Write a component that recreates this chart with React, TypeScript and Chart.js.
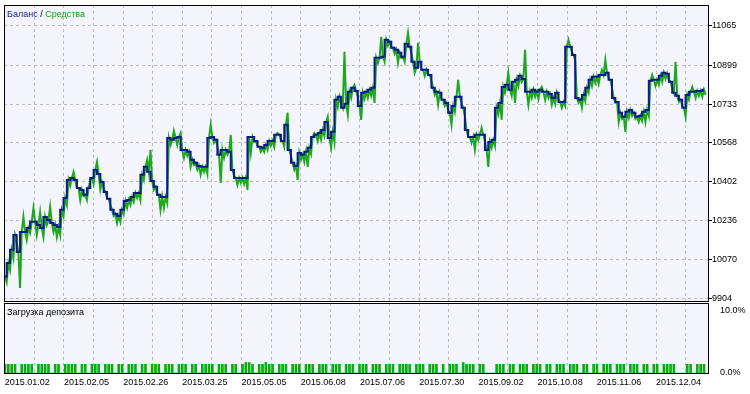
import React, { useEffect, useRef } from 'react';
import { Chart, registerables } from 'chart.js';

Chart.register(...registerables);

// ---- data ----
const balance: number[] = [
  10000, 10057, 10113, 10176, 10104, 10189, 10189, 10206, 10232, 10232,
  10219, 10206, 10253, 10240, 10227, 10219, 10210, 10283, 10334, 10410,
  10419, 10410, 10376, 10368, 10347, 10376, 10419, 10453, 10436, 10402,
  10359, 10330, 10283, 10266, 10257, 10283, 10321, 10325, 10338, 10355,
  10355, 10432, 10466, 10445, 10406, 10381, 10347, 10338, 10338, 10589,
  10581, 10589, 10593, 10538, 10538, 10530, 10496, 10483, 10470, 10466,
  10466, 10589, 10593, 10581, 10517, 10538, 10538, 10530, 10453, 10419,
  10419, 10419, 10419, 10593, 10593, 10576, 10551, 10547, 10559, 10576,
  10576, 10602, 10602, 10576, 10645, 10538, 10483, 10470, 10525, 10517,
  10530, 10547, 10593, 10602, 10610, 10623, 10657, 10589, 10615, 10751,
  10764, 10717, 10734, 10785, 10802, 10789, 10725, 10781, 10785, 10794,
  10802, 10930, 10930, 10934, 11006, 10998, 10972, 10964, 10951, 10934,
  10989, 10977, 10913, 10887, 10913, 10879, 10879, 10857, 10802, 10785,
  10781, 10751, 10738, 10696, 10725, 10764, 10764, 10717, 10623, 10593,
  10593, 10602, 10602, 10602, 10538, 10572, 10581, 10717, 10738, 10806,
  10815, 10794, 10828, 10836, 10853, 10840, 10785, 10785, 10794, 10785,
  10794, 10785, 10785, 10776, 10759, 10781, 10742, 10742, 10977, 10977,
  10942, 10759, 10751, 10772, 10802, 10836, 10849, 10849, 10857, 10857,
  10866, 10836, 10759, 10742, 10696, 10679, 10700, 10708, 10696, 10679,
  10683, 10700, 10708, 10832, 10836, 10836, 10853, 10866, 10862, 10828,
  10781, 10768, 10751, 10717, 10772, 10785, 10785, 10789, 10789, 10794,
];

// equity reading between consecutive balance points
const equity: number[] = [
  9976, 10027, 10078, 10147, 9951, 10253, 10155, 10185, 10291, 10176,
  10274, 10168, 10219, 10296, 10189, 10168, 10176, 10257, 10304, 10385,
  10444, 10376, 10325, 10342, 10325, 10410, 10393, 10487, 10368, 10376,
  10334, 10304, 10257, 10227, 10232, 10266, 10291, 10304, 10317, 10334,
  10325, 10410, 10496, 10538, 10368, 10347, 10283, 10291, 10313, 10559,
  10619, 10559, 10610, 10504, 10513, 10466, 10474, 10453, 10432, 10445,
  10436, 10645, 10568, 10555, 10398, 10504, 10517, 10602, 10427, 10389,
  10398, 10393, 10368, 10525, 10572, 10555, 10530, 10530, 10538, 10555,
  10551, 10610, 10581, 10551, 10696, 10513, 10453, 10410, 10496, 10487,
  10466, 10521, 10610, 10576, 10581, 10598, 10679, 10547, 10572, 10721,
  10734, 10955, 10687, 10759, 10815, 10764, 10666, 10755, 10759, 10768,
  10738, 10908, 11019, 10913, 10981, 10972, 10947, 10908, 10930, 10913,
  11036, 10951, 10866, 10994, 10879, 10853, 10857, 10832, 10772, 10730,
  10755, 10725, 10708, 10645, 10700, 10836, 10738, 10683, 10593, 10568,
  10538, 10581, 10632, 10576, 10466, 10547, 10555, 10691, 10666, 10781,
  10866, 10768, 10738, 10810, 10827, 10964, 10730, 10759, 10764, 10755,
  10806, 10751, 10759, 10730, 10734, 10751, 10717, 10725, 11006, 10955,
  10917, 10738, 10717, 10746, 10781, 10810, 10823, 10819, 10878, 10921,
  10840, 10802, 10738, 10657, 10670, 10615, 10674, 10683, 10670, 10657,
  10661, 10657, 10683, 10857, 10810, 10815, 10827, 10840, 10836, 10802,
  10913, 10742, 10725, 10679, 10751, 10806, 10759, 10768, 10764, 10772,
];

// deposit load, percent
const depositLoad: number[] = [
  1.4, 1.4, 1.4, 1.4, 0, 1.4, 1.4, 1.4, 1.4, 0,
  1.4, 1.4, 1.4, 1.4, 0, 1.4, 1.4, 0, 1.4, 1.4,
  1.4, 1.4, 0, 1.4, 1.4, 0, 1.4, 1.4, 1.4, 0,
  1.4, 1.4, 1.4, 0, 1.4, 1.4, 0, 1.4, 1.4, 1.4,
  0, 1.4, 1.4, 0, 1.4, 1.4, 1.4, 0, 1.4, 1.4,
  1.4, 0, 1.4, 1.4, 1.4, 0, 1.4, 1.4, 0, 1.4,
  1.4, 1.4, 1.4, 0, 1.4, 1.4, 1.4, 0, 1.4, 1.4,
  0, 1.4, 1.7, 1.7, 1.4, 0, 1.4, 1.4, 1.7, 1.4,
  1.4, 0, 1.4, 1.4, 1.4, 0, 1.4, 1.4, 1.4, 0,
  1.4, 1.4, 1.4, 0, 1.4, 1.4, 1.4, 0, 1.4, 1.4,
  1.4, 0, 1.4, 1.4, 1.4, 0, 1.4, 1.4, 1.4, 0,
  1.4, 1.4, 1.4, 0, 1.4, 1.4, 1.4, 0, 1.4, 1.4,
  1.4, 1.4, 0, 1.4, 1.4, 1.4, 0, 1.4, 1.4, 1.4,
  0, 1.4, 0, 1.4, 1.4, 1.4, 0, 1.7, 1.4, 1.4,
  1.4, 0, 1.4, 1.4, 0, 0, 0, 1.4, 1.4, 1.4,
  0, 1.4, 1.4, 0, 1.4, 1.4, 1.4, 0, 1.4, 1.4,
  1.4, 0, 1.4, 1.4, 0, 1.4, 1.4, 1.4, 0, 1.4,
  1.4, 1.4, 0, 1.4, 1.4, 0, 1.4, 1.4, 0, 1.4,
  1.4, 1.4, 0, 1.4, 1.4, 1.4, 0, 1.4, 1.4, 1.4,
  0, 1.4, 1.4, 0, 1.4, 1.4, 0, 1.4, 1.4, 1.4,
  1.4, 0, 0, 0, 1.4, 1.4, 0, 1.4, 1.4, 1.4,
];

const dateLabels: string[] = [
  '2015.01.02', '2015.02.05', '2015.02.26', '2015.03.25', '2015.05.05', '2015.06.08',
  '2015.07.06', '2015.07.30', '2015.09.02', '2015.10.08', '2015.11.06', '2015.12.04',
];
const priceTicks: number[] = [9904, 10070, 10236, 10402, 10568, 10733, 10899, 11065];
const loadTicks: number[] = [0, 10];
const gridTicks: number[] = Array.from({ length: 24 }, (_, k) => k);

// ---- styles ----
const FONT_FAMILY = "'Liberation Sans Narrow', 'Liberation Sans', Arial, sans-serif";
const FONT = { family: FONT_FAMILY, size: 9 };
const BLUE = '#0c1a8c';
const GREEN = '#1ea81e';
const BAR_GREEN = '#12a812';
const PLOT_BG = '#f4f4fc';
const GRID = '#bcbcbc';

const X_MIN = -0.3;
const X_MAX = 210.5;
const G_MIN = -0.024;
const G_MAX = 23.79;

const framePlugin = {
  id: 'frame',
  beforeDraw(chart: any) {
    const { ctx, chartArea: a } = chart;
    ctx.save();
    ctx.fillStyle = PLOT_BG;
    ctx.fillRect(a.left, a.top, a.right - a.left, a.bottom - a.top);
    ctx.restore();
  },
  afterDraw(chart: any) {
    const { ctx, chartArea: a } = chart;
    ctx.save();
    ctx.strokeStyle = '#000';
    ctx.lineWidth = 1;
    ctx.strokeRect(a.left + 0.5, a.top + 0.5, a.right - a.left - 1, a.bottom - a.top - 1);
    const parts: [string, string][] = chart.options.plugins.caption?.parts || [];
    ctx.font = `${FONT.size}px ${FONT_FAMILY}`;
    ctx.textBaseline = 'middle';
    let x = a.left + 3;
    const y = a.top + 10;
    for (const [t, c] of parts) {
      ctx.fillStyle = c;
      ctx.fillText(t, x, y);
      x += ctx.measureText(t).width;
    }
    ctx.restore();
  },
};

const fixWidth = (w: number) => (s: any) => {
  s.width = w;
  s.paddingTop = 0;
  s.paddingBottom = 0;
};

export default function App() {
  const mainRef = useRef<HTMLCanvasElement>(null);
  const loadRef = useRef<HTMLCanvasElement>(null);

  useEffect(() => {
    document.body.style.margin = '0';
    document.body.style.background = '#ffffff';

    const balancePts = balance.map((v, i) => ({ x: i, y: v }));
    const equityPts: { x: number; y: number }[] = [];
    balance.forEach((v, i) => {
      equityPts.push({ x: i, y: v });
      equityPts.push({ x: i + 0.5, y: equity[i] });
    });

    const gridAxis = (height: number, showLabels: boolean) => ({
      type: 'linear' as const,
      position: 'bottom' as const,
      min: G_MIN,
      max: G_MAX,
      offset: false,
      afterBuildTicks: (s: any) => {
        s.ticks = gridTicks.map((v) => ({ value: v }));
      },
      afterFit: (s: any) => {
        s.height = height;
        s.paddingLeft = 0;
        s.paddingRight = 0;
      },
      grid: { color: GRID, drawTicks: false, offset: false },
      border: { display: false, dash: [3, 3] },
      ticks: {
        display: showLabels,
        color: '#000',
        font: FONT,
        align: 'start' as const,
        padding: 3,
        autoSkip: false,
        maxRotation: 0,
        callback: (v: any) => (Number(v) % 2 === 0 ? dateLabels[Number(v) / 2] : ''),
      },
    });

    const c1 = new Chart(mainRef.current!, {
      type: 'line',
      data: {
        datasets: [
          {
            label: 'Баланс',
            data: balancePts,
            borderColor: BLUE,
            borderWidth: 2,
            stepped: 'middle',
            pointRadius: 0,
            xAxisID: 'x',
            yAxisID: 'y',
            order: 0,
          },
          {
            label: 'Средства',
            data: equityPts,
            borderColor: GREEN,
            borderWidth: 2,
            pointRadius: 0,
            tension: 0,
            xAxisID: 'x',
            yAxisID: 'y',
            order: 1,
          },
        ],
      },
      options: {
        responsive: false,
        animation: false,
        events: [],
        layout: { padding: { left: 4, top: 5, right: 0, bottom: 0 } },
        plugins: {
          legend: { display: false },
          tooltip: { enabled: false },
          caption: { parts: [['Баланс', '#1a1a90'], [' / ', '#000'], ['Средства', '#10a010']] },
        } as any,
        scales: {
          x: { type: 'linear', min: X_MIN, max: X_MAX, display: false },
          x2: gridAxis(8, false) as any,
          y: {
            type: 'linear',
            position: 'right',
            min: 9891.2,
            max: 11154.3,
            afterBuildTicks: (s: any) => {
              s.ticks = priceTicks.map((v) => ({ value: v }));
            },
            afterFit: fixWidth(41),
            grid: { color: GRID, tickLength: 3, tickColor: '#000' },
            border: { display: false, dash: [3, 3] },
            ticks: { padding: 0, color: '#000', font: FONT, callback: (v: any) => String(v) },
          },
        },
      },
      plugins: [framePlugin],
    });

    const c2 = new Chart(loadRef.current!, {
      type: 'bar',
      data: {
        datasets: [
          {
            label: 'Загрузка депозита',
            data: depositLoad.map((v, i) => ({ x: i, y: v })),
            backgroundColor: BAR_GREEN,
            barThickness: 2,
            xAxisID: 'x',
            yAxisID: 'y',
          },
        ],
      },
      options: {
        responsive: false,
        animation: false,
        events: [],
        layout: { padding: { left: 4, top: 1, right: 0, bottom: 0 } },
        plugins: {
          legend: { display: false },
          tooltip: { enabled: false },
          caption: { parts: [['Загрузка депозита', '#000']] },
        } as any,
        scales: {
          x: { type: 'linear', min: X_MIN, max: X_MAX, display: false, offset: false },
          x2: gridAxis(20, true) as any,
          y: {
            type: 'linear',
            position: 'right',
            min: -0.16,
            max: 11.29,
            afterBuildTicks: (s: any) => {
              s.ticks = loadTicks.map((v) => ({ value: v }));
            },
            afterFit: fixWidth(41),
            grid: { display: false },
            border: { display: false },
            ticks: { padding: 3, color: '#000', font: FONT, callback: (v: any) => Number(v).toFixed(1) + '%' },
          },
        },
      },
      plugins: [framePlugin],
    });

    return () => {
      c1.destroy();
      c2.destroy();
    };
  }, []);

  return (
    <div style={{ position: 'relative', width: 750, height: 394, overflow: 'hidden', background: '#fff' }}>
      <canvas ref={mainRef} width={750} height={310} style={{ position: 'absolute', left: 0, top: 0 }} />
      <canvas ref={loadRef} width={750} height={92} style={{ position: 'absolute', left: 0, top: 302 }} />
    </div>
  );
}
